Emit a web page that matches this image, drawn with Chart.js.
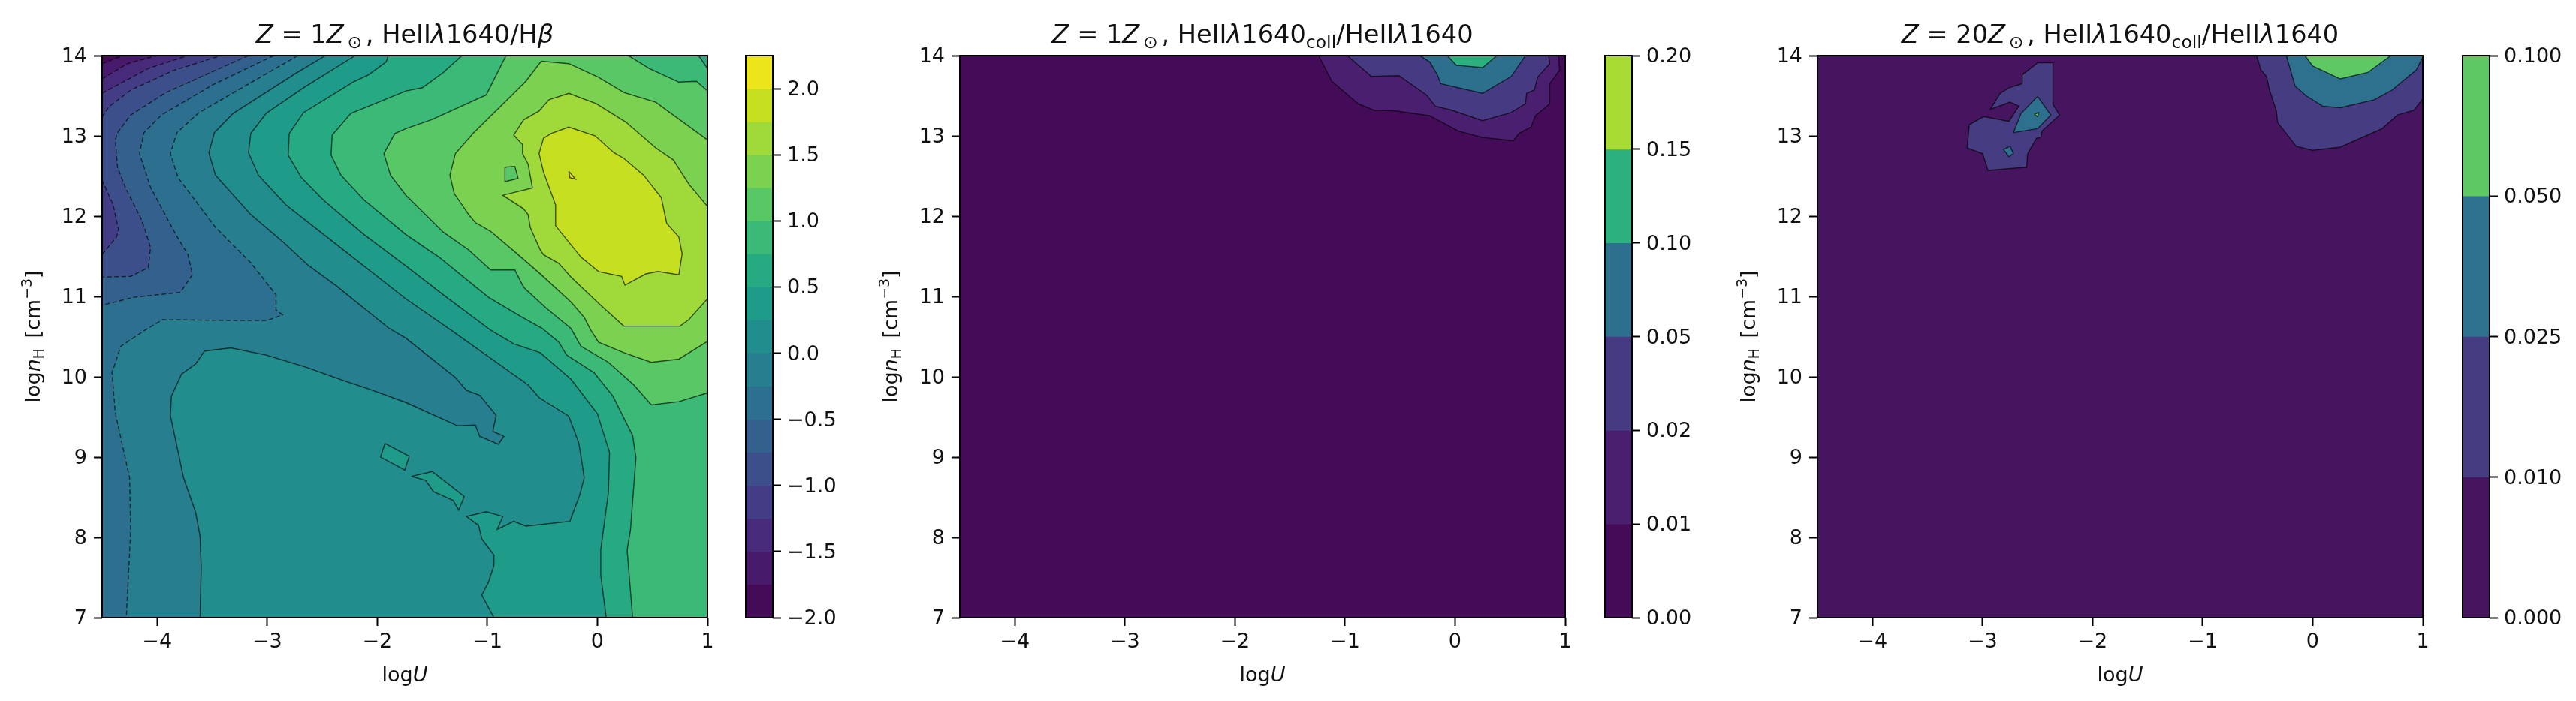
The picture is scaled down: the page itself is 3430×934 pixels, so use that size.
<!DOCTYPE html>
<html>
<head>
<meta charset="utf-8">
<title>HeII 1640 contours</title>
<script src="https://cdn.jsdelivr.net/npm/chart.js@4/dist/chart.umd.js"></script>
<style>
  html, body { margin: 0; padding: 0; background: #fff; }
  canvas { position: absolute; top: 0; filter: blur(0.6px); }
</style>
</head>
<body>
<canvas id="panel1" width="946" height="934" style="left:26px"></canvas>
<canvas id="bar1" width="180" height="934" style="left:992px"></canvas>
<canvas id="panel2" width="946" height="934" style="left:1168px"></canvas>
<canvas id="bar2" width="180" height="934" style="left:2136px"></canvas>
<canvas id="panel3" width="946" height="934" style="left:2310px"></canvas>
<canvas id="bar3" width="150" height="934" style="left:3278px"></canvas>
<script>
// axis ticks
var xTicks = [-4, -3, -2, -1, 0, 1];
var yTicks = [7, 8, 9, 10, 11, 12, 13, 14];

// colorbar levels and tick labels
var levels1 = [-2, -1.75, -1.5, -1.25, -1, -0.75, -0.5, -0.25, 0, 0.25, 0.5, 0.75, 1, 1.25, 1.5, 1.75, 2, 2.25];
var barTicks1 = [-2, -1.5, -1, -0.5, 0, 0.5, 1, 1.5, 2];
var barLabels1 = ['\u22122.0', '\u22121.5', '\u22121.0', '\u22120.5', '0.0', '0.5', '1.0', '1.5', '2.0'];
var levels2 = ['0.00', '0.01', '0.02', '0.05', '0.10', '0.15', '0.20'];
var levels3 = ['0.000', '0.010', '0.025', '0.050', '0.100'];

var colors1 = ['#440b59', '#481a6c', '#472b7a', '#433d85', '#3c4f8a', '#34608d', '#2d6f8e', '#277e8e', '#218d8c',
  '#1f9c89', '#25aa82', '#3bb976', '#58c765', '#7bd250', '#9fda3a', '#c6e021', '#ece51b'];
var colors2 = ['#440b59', '#4a1f70', '#463b82', '#2d708e', '#2bb07e', '#a8db33'];
var colors3 = ['#47145f', '#463c82', '#2d718e', '#5ec962'];

// panel 1: contours of HeII/Hbeta, in (logU, lognH), each closed along the frame
var full = [[-4.5, 7], [1, 7], [1, 14], [-4.5, 14]];
var c1m175 = [[-4.5, 13.9], [-4.31, 14], [1, 14], [1, 7], [-4.5, 7]];
var c1m150 = [[-4.5, 13.71], [-4.27, 13.9], [-4, 14], [1, 14], [1, 7], [-4.5, 7]];
var c1m125 = [[-4.5, 13.53], [-4.08, 13.84], [-3.72, 14], [1, 14], [1, 7], [-4.5, 7]];
var c1m100 = [[-4.5, 13.23], [-4.44, 13.36], [-4.24, 13.57], [-3.86, 13.81], [-3.42, 14], [1, 14], [1, 7], [-4.5, 7],
  [-4.5, 11.52], [-4.37, 11.74], [-4.35, 11.83], [-4.4, 12.14], [-4.5, 12.45]];
var c1m075 = [[-3.17, 14], [-3.92, 13.54], [-4.24, 13.26], [-4.36, 13.04], [-4.38, 12.95], [-4.36, 12.61], [-4.29, 12.36],
  [-4.15, 11.98], [-4.11, 11.83], [-4.06, 11.61], [-4.08, 11.36], [-4.24, 11.25], [-4.5, 11.24], [-4.5, 7], [1, 7], [1, 14]];
var c1m050 = [[-2.94, 14], [-3.49, 13.64], [-3.96, 13.26], [-4.12, 13.04], [-4.16, 12.78], [-4.06, 12.36], [-3.83, 11.77],
  [-3.72, 11.52], [-3.68, 11.27], [-3.79, 11.05], [-4.21, 10.99], [-4.5, 10.89], [-4.5, 7], [1, 7], [1, 14]];
var c1m025 = [[-2.72, 14], [-3.24, 13.59], [-3.62, 13.29], [-3.82, 13.04], [-3.88, 12.78], [-3.81, 12.48], [-3.47, 11.86],
  [-3.15, 11.42], [-2.92, 11.02], [-2.92, 10.83], [-2.86, 10.77], [-3, 10.7], [-3.26, 10.7], [-3.95, 10.71], [-4.11, 10.58],
  [-4.33, 10.38], [-4.41, 10.05], [-4.38, 9.55], [-4.25, 8.74], [-4.24, 8.09], [-4.28, 7], [1, 7], [1, 14]];
var c1p000 = [[-2.47, 14], [-2.74, 13.78], [-3.31, 13.28], [-3.48, 13.04], [-3.53, 12.79], [-3.47, 12.51], [-3.15, 12.02],
  [-2.85, 11.67], [-2.63, 11.39], [-2.37, 11.13], [-1.9, 10.61], [-1.74, 10.48], [-1.29, 9.99], [-1.19, 9.83], [-1.07, 9.77],
  [-0.92, 9.52], [-0.95, 9.32], [-0.85, 9.26], [-0.9, 9.16], [-1.07, 9.26], [-1.11, 9.4], [-1.27, 9.39], [-1.74, 9.68],
  [-2.08, 9.85], [-2.28, 9.94], [-2.65, 10.12], [-3.01, 10.27], [-3.33, 10.36], [-3.57, 10.32], [-3.65, 10.16], [-3.78, 10.03],
  [-3.87, 9.76], [-3.88, 9.52], [-3.76, 8.74], [-3.65, 8.31], [-3.61, 8.01], [-3.6, 7.62], [-3.61, 7], [1, 7], [1, 14]];
var c1p025 = [[-2.2, 14], [-2.67, 13.6], [-3.01, 13.28], [-3.15, 13.03], [-3.17, 12.79], [-3.08, 12.51], [-2.83, 12.14],
  [-2.42, 11.7], [-1.74, 10.97], [-1.33, 10.58], [-0.63, 9.9], [-0.53, 9.74], [-0.26, 9.51], [-0.17, 9.18], [-0.14, 8.93],
  [-0.12, 8.74], [-0.16, 8.53], [-0.25, 8.2], [-0.65, 8.14], [-0.76, 8.2], [-0.91, 8.1], [-0.86, 8.26], [-1.01, 8.32],
  [-1.19, 8.26], [-1.08, 8.15], [-1.05, 7.98], [-0.94, 7.78], [-0.94, 7.65], [-0.99, 7.44], [-1.05, 7.28], [-0.94, 7], [1, 7], [1, 14]];
var c1p025a = [[-1.93, 9.17], [-1.71, 9.01], [-1.75, 8.84], [-1.97, 9]];
var c1p025b = [[-1.69, 8.76], [-1.5, 8.82], [-1.21, 8.51], [-1.26, 8.34], [-1.31, 8.46], [-1.49, 8.57], [-1.56, 8.71]];
var c1p050 = [[-1.9, 14], [-1.92, 13.92], [-2.08, 13.76], [-2.22, 13.67], [-2.67, 13.29], [-2.8, 13.03], [-2.81, 12.76],
  [-2.69, 12.48], [-2.49, 12.2], [-2.12, 11.77], [-1.74, 11.38], [-1.4, 11.02], [-0.97, 10.58], [-0.76, 10.41], [-0.52, 10.3],
  [-0.24, 9.97], [0, 9.54], [0.11, 9.06], [0.1, 8.56], [0.03, 7.84], [0.03, 7.53], [0.08, 7], [1, 7], [1, 14]];
var c1p075 = [[-1.23, 14], [-1.4, 13.79], [-1.59, 13.6], [-1.74, 13.56], [-2.24, 13.28], [-2.41, 13.01], [-2.42, 12.76],
  [-2.33, 12.51], [-2.12, 12.2], [-1.74, 11.77], [-1.44, 11.49], [-0.99, 10.99], [-0.72, 10.77], [-0.5, 10.6], [-0.35, 10.43],
  [-0.28, 10.27], [-0.03, 10.05], [0.14, 9.76], [0.32, 9.27], [0.35, 8.99], [0.3, 8.09], [0.27, 7.84], [0.32, 7], [1, 7], [1, 13.84], [0.92, 14]];
var c1p100 = [[-0.83, 14], [-1.01, 13.51], [-1.51, 13.2], [-1.74, 13.09], [-1.84, 13.03], [-1.94, 12.78], [-1.88, 12.51],
  [-1.74, 12.26], [-1.4, 11.8], [-1.17, 11.58], [-0.97, 11.33], [-0.75, 11.33], [-0.68, 11.14], [-0.66, 11.1], [-0.47, 10.86],
  [-0.24, 10.6], [-0.15, 10.38], [0.1, 10.18], [0.33, 9.9], [0.49, 9.65], [0.74, 9.69], [1, 9.8], [1, 13.56], [0.9, 13.68],
  [0.74, 13.67], [0.47, 13.84], [0.28, 14]];
var c1p125 = [[-0.51, 13.93], [-0.26, 13.9], [0.01, 13.73], [0.24, 13.54], [0.53, 13.42], [1, 12.95], [1, 10.44], [0.74, 10.22],
  [0.49, 10.18], [0.24, 10.3], [0.01, 10.43], [-0.06, 10.58], [-0.12, 10.74], [-0.24, 10.93], [-0.51, 11.27], [-0.72, 11.52],
  [-0.97, 11.81], [-1.11, 11.92], [-1.17, 12.02], [-1.3, 12.28], [-1.34, 12.51], [-1.29, 12.78], [-1.13, 13.03], [-0.76, 13.53], [-0.65, 13.68]];
var c1p125hole = [[-0.84, 12.61], [-0.75, 12.62], [-0.72, 12.47], [-0.84, 12.43]];
var c1p150 = [[1, 12.12], [0.83, 12.4], [0.69, 12.7], [0.53, 12.85], [0.26, 13.17], [-0.01, 13.4], [-0.26, 13.53], [-0.44, 13.45],
  [-0.53, 13.31], [-0.67, 13.2], [-0.76, 13.01], [-0.68, 12.89], [-0.68, 12.78], [-0.63, 12.65], [-0.59, 12.35], [-0.86, 12.26],
  [-0.67, 12.09], [-0.63, 12.02], [-0.61, 11.86], [-0.52, 11.58], [-0.49, 11.52], [-0.35, 11.41], [-0.24, 11.24], [0.03, 10.89],
  [0.24, 10.63], [0.75, 10.63], [0.83, 10.71], [1, 10.97]];
var c1p175 = [[-0.26, 13.11], [-0.02, 13], [0.15, 12.79], [0.24, 12.72], [0.42, 12.51], [0.58, 12.23], [0.63, 11.91], [0.74, 11.74],
  [0.77, 11.53], [0.74, 11.27], [0.55, 11.31], [0.44, 11.28], [0.25, 11.14], [0.22, 11.25], [0.01, 11.31], [-0.15, 11.49],
  [-0.38, 11.88], [-0.38, 12.14], [-0.49, 12.55], [-0.53, 12.78], [-0.49, 12.97], [-0.42, 13.03]];
var c1p200 = [[-0.26, 12.56], [-0.2, 12.46], [-0.25, 12.48]];

// panel 2
var c2a = [[-1.24, 14], [-1.12, 13.68], [-0.88, 13.4], [-0.74, 13.32], [-0.53, 13.31], [-0.23, 13.25], [0.03, 13.06], [0.25, 12.98],
  [0.53, 12.94], [0.58, 13.03], [0.69, 13.11], [0.73, 13.25], [0.86, 13.4], [0.86, 13.65], [0.95, 13.82], [0.94, 14]];
var c2b = [[-0.98, 14], [-0.76, 13.74], [-0.51, 13.75], [-0.26, 13.51], [-0.18, 13.37], [-0.03, 13.32], [0.25, 13.19], [0.51, 13.29],
  [0.64, 13.4], [0.65, 13.53], [0.72, 13.57], [0.75, 13.73], [0.86, 13.9], [0.85, 14]];
var c2c = [[-0.32, 14], [-0.23, 13.92], [-0.16, 13.76], [-0.13, 13.65], [0.25, 13.53], [0.51, 13.74], [0.64, 14]];
var c2d = [[-0.07, 14], [0.01, 13.88], [0.25, 13.85], [0.38, 14]];

// panel 3
var c3a = [[-0.51, 14], [-0.47, 13.82], [-0.42, 13.74], [-0.39, 13.56], [-0.33, 13.31], [-0.32, 13.17], [-0.15, 12.87], [0, 12.82],
  [0.25, 12.86], [0.63, 13.09], [0.77, 13.26], [0.92, 13.32], [1, 13.46], [1, 14]];
var c3aBlob = [[-2.5, 13.91], [-2.36, 13.91], [-2.36, 13.39], [-2.3, 13.26], [-2.46, 13.06], [-2.47, 12.98], [-2.51, 12.97], [-2.59, 12.78],
  [-2.6, 12.61], [-2.95, 12.57], [-3, 12.78], [-3.14, 12.85], [-3.12, 13.14], [-2.99, 13.24], [-2.76, 13.18], [-2.67, 13.37],
  [-2.75, 13.42], [-2.93, 13.33], [-2.84, 13.53], [-2.76, 13.6], [-2.64, 13.65], [-2.64, 13.76]];
var c3b = [[-0.24, 14], [-0.16, 13.62], [-0.06, 13.5], [0.09, 13.37], [0.25, 13.35], [0.56, 13.45], [0.72, 13.57], [0.94, 13.82], [1, 13.98], [1, 14]];
var c3bBlob = [[-2.5, 13.49], [-2.38, 13.26], [-2.5, 13.09], [-2.72, 13.04], [-2.65, 13.28]];
var c3bSpot = [[-2.81, 12.83], [-2.75, 12.87], [-2.72, 12.78], [-2.76, 12.74]];
var c3c = [[-0.07, 14], [0, 13.87], [0.25, 13.71], [0.5, 13.79], [0.71, 14]];
var c3cSpot = [[-2.53, 13.27], [-2.49, 13.29], [-2.5, 13.24]];

Chart.defaults.font.family = '"DejaVu Sans", sans-serif';
Chart.defaults.color = '#111';
Chart.defaults.animation = false;

var TICK_FONT = 27;
var TOP = 74, BOTTOM = 111;

function minus(v) {
  return String(v).replace('-', '\u2212');
}

// draws the title and axis labels, which mix italic, subscript and plain text
function drawRuns(ctx, runs, x, y, size, rotation) {
  ctx.save();
  ctx.translate(x, y);
  ctx.rotate(rotation || 0);
  ctx.textBaseline = 'alphabetic';
  ctx.textAlign = 'left';
  ctx.fillStyle = '#111';
  var total = 0;
  runs.forEach(function (r) {
    r.px = r.sub || r.sup ? size * 0.7 : size;
    r.font = (r.i ? 'italic ' : '') + r.px + 'px "DejaVu Sans"';
    ctx.font = r.font;
    r.w = ctx.measureText(r.t).width;
    total += r.w;
  });
  var pos = -total / 2;
  runs.forEach(function (r) {
    ctx.font = r.font;
    ctx.fillText(r.t, pos, r.sub ? size * 0.2 : (r.sup ? -size * 0.42 : 0));
    pos += r.w;
  });
  ctx.restore();
}

var framePlugin = {
  id: 'frame',
  afterDatasetsDraw: function (chart) {
    var a = chart.chartArea;
    chart.ctx.save();
    chart.ctx.strokeStyle = '#000';
    chart.ctx.lineWidth = 2;
    chart.ctx.strokeRect(a.left, a.top, a.right - a.left, a.bottom - a.top);
    chart.ctx.restore();
  }
};

function labelPlugin(titleRuns) {
  return {
    id: 'labels',
    afterDraw: function (chart) {
      var a = chart.chartArea, ctx = chart.ctx;
      var mid = (a.left + a.right) / 2;
      drawRuns(ctx, titleRuns, mid, 57, 33.6);
      drawRuns(ctx, [{ t: 'log' }, { t: 'U', i: true }], mid, 908, 27);
      drawRuns(ctx, [{ t: 'log' }, { t: 'n', i: true }, { t: 'H', sub: true }, { t: '\u2002[cm' }, { t: '\u22123', sup: true }, { t: ']' }],
        27, (a.top + a.bottom) / 2, 27, -Math.PI / 2);
    }
  };
}

function contourChart(id, layers, titleRuns) {
  var n = layers.length;
  var datasets = layers.map(function (l, i) {
    return {
      data: l[0].concat([l[0][0]]).map(function (p) { return { x: p[0], y: p[1] }; }),
      showLine: true,
      fill: 'shape',
      backgroundColor: l[1],
      borderColor: l[3] === false ? 'rgba(0,0,0,0)' : 'rgba(0,0,0,0.66)',
      borderWidth: 1.4,
      borderDash: l[2] ? [6, 3.5] : [],
      pointRadius: 0,
      tension: 0,
      order: n - i
    };
  });
  new Chart(document.getElementById(id), {
    type: 'scatter',
    data: { datasets: datasets },
    plugins: [framePlugin, labelPlugin(titleRuns)],
    options: {
      responsive: false,
      devicePixelRatio: 1,
      layout: { padding: { top: TOP, right: 30, left: 0, bottom: 0 } },
      plugins: { legend: { display: false }, tooltip: { enabled: false }, title: { display: false } },
      scales: {
        x: {
          type: 'linear', min: -4.5, max: 1,
          afterBuildTicks: function (s) { s.ticks = xTicks.map(function (v) { return { value: v }; }); },
          afterFit: function (s) { s.height = BOTTOM; },
          border: { display: false },
          grid: { drawOnChartArea: false, color: '#000', tickLength: 11, tickWidth: 2 },
          ticks: { font: { size: TICK_FONT }, padding: 6, maxRotation: 0, autoSkip: false, callback: minus }
        },
        y: {
          type: 'linear', min: 7, max: 14,
          afterBuildTicks: function (s) { s.ticks = yTicks.map(function (v) { return { value: v }; }); },
          afterFit: function (s) { s.width = 110; },
          border: { display: false },
          grid: { drawOnChartArea: false, color: '#000', tickLength: 11, tickWidth: 2 },
          ticks: { font: { size: TICK_FONT }, padding: 9, labelOffset: 2, autoSkip: false, callback: minus }
        }
      }
    }
  });
}

function colorBar(id, edges, colors, tickValues, tickLabels) {
  var top = edges[edges.length - 1];
  // each band runs up to the top of the bar and the next one paints over it, so no seams show
  var datasets = colors.map(function (c, i) {
    return {
      data: [[edges[i], top]], backgroundColor: c, borderWidth: 0, barPercentage: 1, categoryPercentage: 1,
      grouped: false, order: colors.length - i
    };
  });
  new Chart(document.getElementById(id), {
    type: 'bar',
    data: { labels: [''], datasets: datasets },
    plugins: [framePlugin],
    options: {
      responsive: false,
      devicePixelRatio: 1,
      layout: { padding: { top: TOP, bottom: BOTTOM, left: 1, right: 0 } },
      plugins: { legend: { display: false }, tooltip: { enabled: false } },
      scales: {
        x: { display: false },
        y: {
          type: 'linear', position: 'right', min: edges[0], max: top,
          afterBuildTicks: function (s) { s.ticks = tickValues.map(function (v) { return { value: v }; }); },
          afterFit: function (s) { s.width = s.chart.width - 37; },
          border: { display: false },
          grid: { drawOnChartArea: false, color: '#000', tickLength: 11, tickWidth: 2 },
          ticks: {
            font: { size: TICK_FONT }, padding: 8, labelOffset: 2, autoSkip: false, crossAlign: 'near',
            callback: function (v) { return tickLabels[tickValues.indexOf(v)]; }
          }
        }
      }
    }
  });
}

function indexes(list) {
  return list.map(function (v, i) { return i; });
}

var dashed = true, solid = false;

contourChart('panel1', [
  [full, colors1[0], solid, false],
  [c1m175, colors1[1], dashed], [c1m150, colors1[2], dashed], [c1m125, colors1[3], dashed],
  [c1m100, colors1[4], dashed], [c1m075, colors1[5], dashed], [c1m050, colors1[6], dashed],
  [c1m025, colors1[7], dashed], [c1p000, colors1[8], solid], [c1p025, colors1[9], solid],
  [c1p025a, colors1[9], solid], [c1p025b, colors1[9], solid], [c1p050, colors1[10], solid],
  [c1p075, colors1[11], solid], [c1p100, colors1[12], solid], [c1p125, colors1[13], solid],
  [c1p125hole, colors1[12], solid], [c1p150, colors1[14], solid], [c1p175, colors1[15], solid],
  [c1p200, colors1[16], solid]
], [{ t: 'Z', i: true }, { t: ' = 1' }, { t: 'Z', i: true }, { t: '\u2009\u2299\u2009', sub: true }, { t: ', HeII' },
  { t: '\u03bb', i: true }, { t: '1640/H' }, { t: '\u03b2', i: true }]);

contourChart('panel2', [
  [full, colors2[0], solid, false],
  [c2a, colors2[1], solid], [c2b, colors2[2], solid], [c2c, colors2[3], solid], [c2d, colors2[4], solid]
], [{ t: 'Z', i: true }, { t: ' = 1' }, { t: 'Z', i: true }, { t: '\u2009\u2299\u2009', sub: true }, { t: ', HeII' },
  { t: '\u03bb', i: true }, { t: '1640' }, { t: 'coll', sub: true }, { t: '/HeII' }, { t: '\u03bb', i: true }, { t: '1640' }]);

contourChart('panel3', [
  [full, colors3[0], solid, false],
  [c3a, colors3[1], solid], [c3aBlob, colors3[1], solid], [c3b, colors3[2], solid], [c3bBlob, colors3[2], solid],
  [c3bSpot, colors3[2], solid], [c3c, colors3[3], solid], [c3cSpot, colors3[3], solid]
], [{ t: 'Z', i: true }, { t: ' = 20' }, { t: 'Z', i: true }, { t: '\u2009\u2299\u2009', sub: true }, { t: ', HeII' },
  { t: '\u03bb', i: true }, { t: '1640' }, { t: 'coll', sub: true }, { t: '/HeII' }, { t: '\u03bb', i: true }, { t: '1640' }]);

colorBar('bar1', levels1, colors1, barTicks1, barLabels1);
colorBar('bar2', indexes(levels2), colors2, indexes(levels2), levels2);
colorBar('bar3', indexes(levels3), colors3, indexes(levels3), levels3);
</script>
</body>
</html>
